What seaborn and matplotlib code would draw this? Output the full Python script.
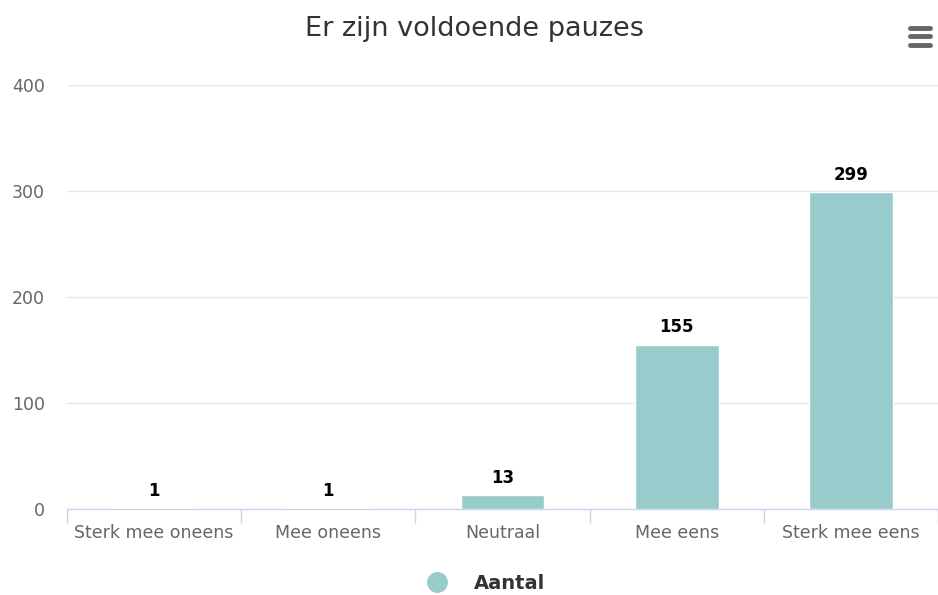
import matplotlib
matplotlib.use('Agg')
import matplotlib.pyplot as plt
import seaborn as sns
import pandas as pd
from matplotlib.lines import Line2D

categories = ["Sterk mee oneens", "Mee oneens", "Neutraal", "Mee eens", "Sterk mee eens"]
aantal = [1, 1, 13, 155, 299]
y_ticks = [0, 100, 200, 300, 400]

bar_color = "#98cbcb"

df = pd.DataFrame({"categorie": categories, "Aantal": aantal})

sns.set_style("white")
plt.rcParams['font.family'] = ['DejaVu Sans']

fig = plt.figure(figsize=(9.38, 5.95), dpi=100)
ax = fig.add_axes([67 / 938, 86 / 595, 871 / 938, 424 / 595])

sns.barplot(data=df, x="categorie", y="Aantal", color=bar_color, width=0.48,
            saturation=1, edgecolor="white", linewidth=1, ax=ax, zorder=3)

ax.set_xlim(-0.5, 4.5)
ax.set_ylim(0, 400)
ax.set_yticks(y_ticks)
ax.set_yticklabels([str(t) for t in y_ticks], color="#666666", fontsize=12.5)
ax.tick_params(axis="y", length=0, pad=16)
ax.yaxis.grid(True, color="#e6e6e6", linewidth=1, zorder=0)
ax.set_axisbelow(True)

# category labels, ticks on the boundaries
ax.set_xticks(range(len(categories)))
ax.set_xticklabels(categories, color="#666666", fontsize=12.5)
ax.tick_params(axis="x", which="major", bottom=True, length=0, pad=11)
ax.set_xticks([i - 0.5 for i in range(len(categories) + 1)], minor=True)
ax.tick_params(axis="x", which="minor", bottom=True, length=10, color="#ccd6eb", width=1)

for s in ["top", "right", "left"]:
    ax.spines[s].set_visible(False)
ax.spines["bottom"].set_color("#ccd6eb")
ax.spines["bottom"].set_linewidth(1)
ax.set_xlabel("")
ax.set_ylabel("")

for i, v in enumerate(aantal):
    ax.annotate(str(v), (i, v), xytext=(0, 6), textcoords="offset points",
                ha="center", va="bottom", fontsize=12, fontweight="bold", color="black")

fig.text(0.506, 0.952, "Er zijn voldoende pauzes", ha="center", va="center",
         fontsize=19.5, color="#333333")

# menu icon
for yy in [0.953, 0.939, 0.925]:
    fig.add_artist(Line2D([0.97, 0.992], [yy, yy], color="#666666", linewidth=3.5,
                          solid_capstyle="round", transform=fig.transFigure))

handle = Line2D([], [], marker="o", linestyle="", markersize=14,
                markerfacecolor=bar_color, markeredgecolor=bar_color)
fig.legend([handle], ["Aantal"], loc="center", bbox_to_anchor=(0.513, 0.02),
           frameon=False, prop={"weight": "bold", "size": 14}, handletextpad=0.9,
           labelcolor="#333333")

fig.savefig("out.png", dpi=100)
